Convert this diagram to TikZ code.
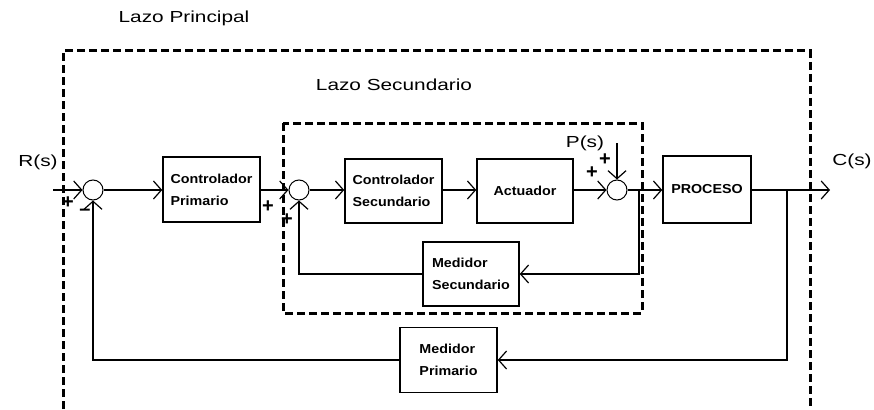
\documentclass[tikz,border=0pt]{standalone}
\usepackage{fontspec}
\setmainfont{Liberation Sans}
\newfontfamily\lblfont[FakeStretch=1.3]{Liberation Sans}
\newfontfamily\boxfont[FakeStretch=1.1]{Liberation Sans}
\usetikzlibrary{arrows.meta}
\begin{document}
\begin{tikzpicture}[x=1pt,y=-1pt,
  ln/.style={line width=1.6pt},
  arr/.style={ln,-{Straight Barb[length=8pt,width=18pt,line width=1.2pt]}},
  blk/.style={draw,line width=1.5pt,minimum width=97pt,minimum height=65pt,inner sep=0pt,
    font=\boxfont\bfseries\fontsize{13}{22}\selectfont,align=left},
  sumj/.style={draw,circle,line width=1pt,minimum size=20pt,inner sep=0pt},
  lbl/.style={font=\lblfont\fontsize{16}{18}\selectfont,inner sep=0pt},
  sgn/.style={font=\fontsize{20}{20}\selectfont\bfseries,inner sep=0pt},
  dsh/.style={line width=3pt,dash pattern=on 8pt off 4pt}]
\useasboundingbox (0,0) rectangle (874,409);
% dashed loops
\draw[dsh] (63,409) -- (63,51) -- (810,51) -- (810,409);
\draw[dsh] (283,123) rectangle (642,313);
\node[lbl] (lp) at (184,18) {Lazo Principal};
\node[lbl] (ls) at (394,85) {Lazo Secundario};
% summing junctions
\node[sumj] (s1) at (93,190) {};
\node[sumj] (s2) at (299,190) {};
\node[sumj] (s3) at (617,190) {};
% blocks
\node[blk] (cp) at (211.5,189.5) {Controlador\\Primario};
\node[blk,minimum width=97pt,minimum height=64pt] (cs) at (393.5,191) {Controlador\\Secundario};
\node[blk,minimum width=96pt,minimum height=64pt] (act) at (525,191) {Actuador};
\node[blk,minimum width=88pt,minimum height=67pt] (proc) at (707,189.5) {PROCESO};
\node[blk,minimum width=96pt,minimum height=64pt] (ms) at (471,274) {Medidor\\Secundario};
\node[blk,minimum width=97pt,minimum height=65pt] (mp) at (448.5,360) {Medidor\\Primario};
% labels
\node[lbl] (rs) at (38,162) {R(s)};
\node[lbl] (csig) at (852,161) {C(s)};
\node[lbl] (ps) at (585,143) {P(s)};
\node[sgn] at (68,203) {+};
\node[sgn] at (85,212) {–};
\node[sgn] at (268,207) {+};
\node[sgn] at (287,220) {+};
\node[sgn] at (592,173) {+};
\node[sgn] at (605,160) {+};
% coordinates
\coordinate (in) at (53,190);
\coordinate (out) at (830,190);
\coordinate (br1) at (787,190);
\coordinate (br2) at (639,190);
\coordinate (pin) at (617,143);
% forward path
\draw[arr] (in) -- (s1);
\draw[arr] (s1) -- (s1 -| cp.west);
\draw[arr] (s2 -| cp.east) -- (s2);
\draw[arr] (s2) -- (s2 -| cs.west);
\draw[arr] (s2 -| cs.east) -- (s2 -| act.west);
\draw[arr] (s3 -| act.east) -- (s3);
\draw[arr] (s3) -- (s3 -| proc.west);
\draw[arr] (s3 -| proc.east) -- (out);
\draw[arr] (pin) -- (s3);
% secondary loop
\draw[arr] (br2) |- (ms.east);
\draw[arr] (ms.west) -| (s2);
% primary loop
\draw[arr] (br1) |- (mp.east);
\draw[arr] (mp.west) -| (s1);
\end{tikzpicture}
\end{document}
